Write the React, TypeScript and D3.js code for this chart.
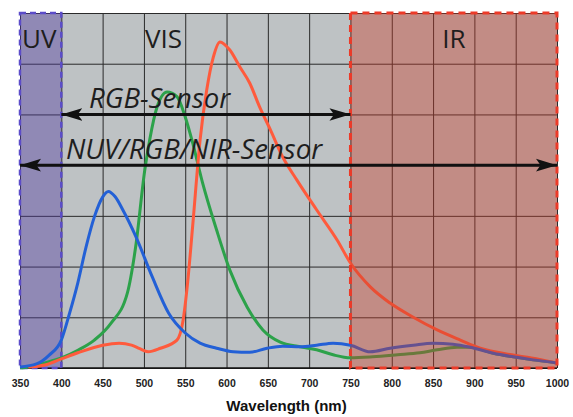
import { useEffect, useRef } from 'react';
import * as d3 from 'd3';

// wavelength (nm) / relative response
const blueNm = [350, 370, 385, 400, 410, 420, 430, 440, 450, 457, 465, 475, 490, 510, 530, 550, 568, 588, 608, 628, 649, 668, 689, 709, 729, 750, 774, 798, 826, 850, 874, 895, 923, 947, 971, 1000];
const blueVal = [0.02, 0.08, 0.25, 0.55, 1.08, 1.68, 2.39, 2.98, 3.37, 3.48, 3.38, 3.1, 2.6, 1.8, 1.08, 0.69, 0.49, 0.39, 0.32, 0.31, 0.39, 0.43, 0.42, 0.45, 0.49, 0.45, 0.32, 0.39, 0.45, 0.49, 0.47, 0.41, 0.29, 0.22, 0.16, 0.1];

const greenNm = [350, 370, 390, 400, 420, 440, 460, 480, 490, 501, 507, 516, 528, 540, 550, 559, 571, 588, 604, 625, 644, 665, 689, 709, 729, 750, 777, 807, 834, 855, 879, 895, 923, 947, 971, 1000];
const greenVal = [0.0, 0.05, 0.15, 0.2, 0.35, 0.55, 0.88, 1.48, 2.39, 3.9, 4.5, 5.15, 5.44, 5.35, 4.95, 4.44, 3.65, 2.72, 1.93, 1.2, 0.75, 0.51, 0.42, 0.36, 0.26, 0.2, 0.22, 0.26, 0.3, 0.36, 0.41, 0.41, 0.29, 0.22, 0.16, 0.1];

const redNm = [360, 380, 400, 420, 450, 470, 485, 495, 505, 520, 540, 547, 553, 559, 568, 576, 584, 592, 604, 616, 628, 640, 653, 668, 685, 709, 734, 750, 774, 798, 826, 855, 883, 907, 945, 969, 1000];
const redVal = [0.02, 0.06, 0.18, 0.3, 0.45, 0.49, 0.45, 0.38, 0.32, 0.39, 0.55, 0.9, 1.7, 2.8, 4.5, 5.48, 6.13, 6.43, 6.27, 5.94, 5.62, 5.15, 4.7, 4.16, 3.71, 3.12, 2.52, 2.07, 1.6, 1.28, 1.0, 0.75, 0.55, 0.39, 0.26, 0.2, 0.1];

const xTicks = [350, 400, 450, 500, 550, 600, 650, 700, 750, 800, 850, 900, 950, 1000];
const yTicks = [0, 1, 2, 3, 4, 5, 6, 7];

const uvRange = [350, 400];
const irRange = [750, 1000];
const rgbRange = [400, 750];
const nuvRange = [350, 1000];

export default function App() {
  const svgRef = useRef<SVGSVGElement>(null);

  useEffect(() => {
    const svg = d3.select(svgRef.current);
    svg.selectAll('*').remove();

    const left = 20, right = 557, top = 13, bottom = 368;
    const x = d3.scaleLinear().domain([350, 1000]).range([left, right]);
    const y = d3.scaleLinear().domain([0, 7]).range([bottom, top]);

    const defs = svg.append('defs');
    defs.append('marker')
      .attr('id', 'ah')
      .attr('viewBox', '0 0 10 6')
      .attr('refX', 10).attr('refY', 3)
      .attr('markerWidth', 7).attr('markerHeight', 7)
      .attr('markerUnits', 'strokeWidth')
      .attr('orient', 'auto-start-reverse')
      .append('path')
      .attr('d', 'M0,0 L10,3 L0,6 L2.2,3 Z')
      .attr('fill', '#111');

    svg.append('rect')
      .attr('x', left).attr('y', top)
      .attr('width', right - left).attr('height', bottom - top)
      .attr('fill', '#bec2c4');

    // grid
    const gx = svg.append('g')
      .attr('transform', `translate(0,${bottom})`)
      .call(d3.axisBottom(x).tickValues(xTicks).tickSize(-(bottom - top)).tickFormat(d3.format('d')));
    gx.select('.domain').remove();
    gx.selectAll('.tick line').attr('stroke', '#2a2a2a').attr('stroke-width', 1);
    gx.selectAll('.tick text')
      .attr('dy', 0).attr('y', 19)
      .attr('fill', '#222')
      .style('font-family', 'Arial, "Liberation Sans", sans-serif')
      .style('font-weight', 'bold')
      .style('font-size', '10.5px');

    const gy = svg.append('g')
      .attr('transform', `translate(${left},0)`)
      .call(d3.axisLeft(y).tickValues(yTicks).tickSize(-(right - left)).tickFormat(() => ''));
    gy.select('.domain').remove();
    gy.selectAll('.tick line').attr('stroke', '#2a2a2a').attr('stroke-width', 1);

    svg.append('line')
      .attr('x1', left).attr('x2', right).attr('y1', bottom).attr('y2', bottom)
      .attr('stroke', '#111').attr('stroke-width', 1.5);

    // UV band (under curves)
    svg.append('rect')
      .attr('x', x(uvRange[0])).attr('y', top)
      .attr('width', x(uvRange[1]) - x(uvRange[0])).attr('height', bottom - top)
      .attr('fill', 'rgb(80,60,160)').attr('fill-opacity', 0.42)
      .attr('stroke', '#5b4cc9').attr('stroke-width', 2.5).attr('stroke-dasharray', '6,4');

    const line = d3.line<[number, number]>()
      .x((d) => x(d[0])).y((d) => y(d[1]))
      .curve(d3.curveMonotoneX);

    const series: [number[], number[], string][] = [
      [greenNm, greenVal, '#2ca24a'],
      [redNm, redVal, '#ff5a3c'],
      [blueNm, blueVal, '#2360d6'],
    ];
    series.forEach(([nm, v, c]) => {
      svg.append('path')
        .datum(nm.map((n, i) => [n, v[i]] as [number, number]))
        .attr('d', line)
        .attr('fill', 'none')
        .attr('stroke', c)
        .attr('stroke-width', 3)
        .attr('stroke-linejoin', 'round');
    });

    // IR band (over curves)
    svg.append('rect')
      .attr('x', x(irRange[0])).attr('y', top)
      .attr('width', x(irRange[1]) - x(irRange[0])).attr('height', bottom - top)
      .attr('fill', 'rgb(200,60,40)').attr('fill-opacity', 0.4)
      .attr('stroke', '#ec3a28').attr('stroke-width', 3).attr('stroke-dasharray', '7,5');

    // arrows
    const arrow = (r: number[], yy: number) => {
      svg.append('line')
        .attr('x1', x(r[0])).attr('x2', x(r[1]))
        .attr('y1', yy).attr('y2', yy)
        .attr('stroke', '#111').attr('stroke-width', 3)
        .attr('marker-start', 'url(#ah)').attr('marker-end', 'url(#ah)');
    };
    arrow(rgbRange, y(5));
    arrow(nuvRange, y(4));

    const label = (t: string, xx: number, yy: number, size: number, italic = false, anchor = 'start') => {
      svg.append('text')
        .attr('x', xx).attr('y', yy)
        .attr('text-anchor', anchor)
        .attr('fill', '#1e1e1e')
        .style('font-family', '"Open Sans", sans-serif')
        .style('font-size', `${size}px`)
        .style('font-style', italic ? 'italic' : 'normal')
        .text(t);
    };
    label('UV', 22, 48, 26);
    label('VIS', 145, 48, 26);
    label('IR', 454, 48, 26, false, 'middle');
    label('RGB-Sensor', 89, 108, 27.5, true);
    label('NUV/RGB/NIR-Sensor', 66, 159, 27.5, true);

    svg.append('text')
      .attr('x', (left + right) / 2 - 2).attr('y', 411)
      .attr('text-anchor', 'middle')
      .attr('fill', '#111')
      .style('font-family', 'Arial, "Liberation Sans", sans-serif')
      .style('font-weight', 'bold')
      .style('font-size', '15px')
      .text('Wavelength (nm)');
  }, []);

  return (
    <svg
      ref={svgRef}
      width={573}
      height={417}
      style={{ position: 'absolute', left: 0, top: 0, background: '#fff' }}
    />
  );
}
